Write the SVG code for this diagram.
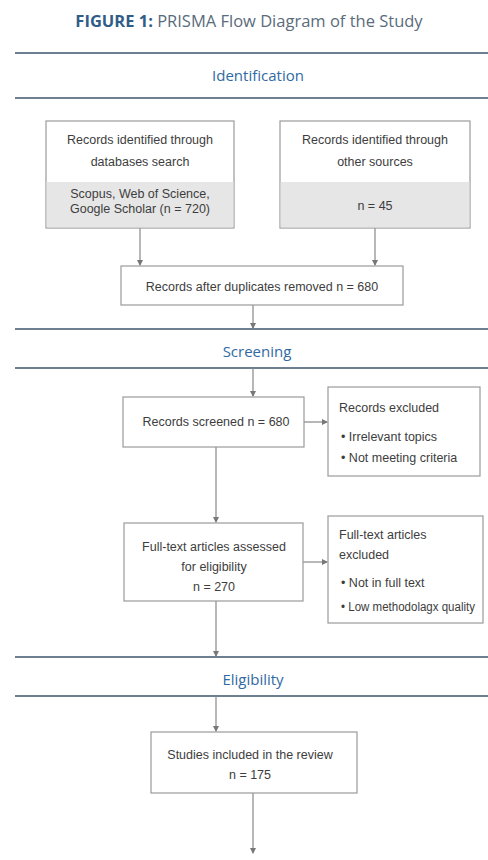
<svg xmlns="http://www.w3.org/2000/svg" width="488" height="860" viewBox="0 0 488 860">
<defs>
<marker id="ah" viewBox="0 0 6 6" refX="5" refY="3" markerWidth="5" markerHeight="5" orient="auto">
<path d="M0,0 L6,3 L0,6 z" fill="#777"/>
</marker>
<style>
.t{font-family:"Liberation Sans","Open Sans",sans-serif;font-size:12.5px;fill:#3d3d3d;}
.c{text-anchor:middle;}
.sec{font-family:"Open Sans","Liberation Sans",sans-serif;font-size:15px;fill:#2f6aa3;text-anchor:middle;}
.band{stroke:#6e7f92;stroke-width:2;}
.box{fill:#fff;stroke:#9a9a9a;stroke-width:1.2;}
.gray{fill:#e6e6e6;}
.con{stroke:#888;stroke-width:1.2;fill:none;marker-end:url(#ah);}
</style>
</defs>
<rect width="488" height="860" fill="#fff"/>
<text x="249" y="27" font-family="Open Sans,Liberation Sans,sans-serif" font-size="16.5" text-anchor="middle" fill="#5a6b7c"><tspan font-weight="bold" fill="#2f5d86">FIGURE 1:</tspan> PRISMA Flow Diagram of the Study</text>

<g id="sections">
<line class="band" x1="15" y1="53" x2="488" y2="53"/>
<text class="sec" x="258" y="81">Identification</text>
<line class="band" x1="15" y1="98" x2="488" y2="98"/>
<line class="band" x1="15" y1="329" x2="488" y2="329"/>
<text class="sec" x="257" y="357">Screening</text>
<line class="band" x1="15" y1="368" x2="488" y2="368"/>
<line class="band" x1="15" y1="657" x2="488" y2="657"/>
<text class="sec" x="253" y="685">Eligibility</text>
<line class="band" x1="15" y1="696" x2="488" y2="696"/>
</g>

<g id="connectors">
<line class="con" x1="140" y1="228" x2="140" y2="265"/>
<line class="con" x1="375" y1="228" x2="375" y2="265"/>
<line class="con" x1="253" y1="305" x2="253" y2="328"/>
<line class="con" x1="253" y1="368" x2="253" y2="396"/>
<line class="con" x1="304" y1="422" x2="327" y2="422"/>
<line class="con" x1="216" y1="447" x2="216" y2="522"/>
<line class="con" x1="303" y1="562" x2="327" y2="562"/>
<line class="con" x1="216" y1="601" x2="216" y2="656"/>
<line class="con" x1="216" y1="696" x2="216" y2="731"/>
<line class="con" x1="253" y1="793" x2="253" y2="853"/>
</g>

<g id="db">
<rect class="box" x="46" y="121" width="188" height="107"/>
<rect class="gray" x="46.6" y="182" width="186.8" height="45.4"/>
<text class="t c" x="140" y="144">Records identified through</text>
<text class="t c" x="140" y="166">databases search</text>
<text class="t c" x="140" y="198">Scopus, Web of Science,</text>
<text class="t c" x="140" y="213">Google Scholar (n = 720)</text>
</g>

<g id="other">
<rect class="box" x="280" y="121" width="190" height="107"/>
<rect class="gray" x="280.6" y="182" width="188.8" height="45.4"/>
<text class="t c" x="375" y="144">Records identified through</text>
<text class="t c" x="375" y="166">other sources</text>
<text class="t c" x="375" y="210">n = 45</text>
</g>

<g id="dedup">
<rect class="box" x="121" y="266" width="282" height="39"/>
<text class="t c" x="262" y="291">Records after duplicates removed n = 680</text>
</g>

<g id="screened">
<rect class="box" x="123" y="397" width="181" height="50"/>
<text class="t c" x="216" y="426">Records screened n = 680</text>
</g>

<g id="excluded">
<rect class="box" x="328" y="387" width="152" height="89"/>
<text class="t" x="339" y="412">Records excluded</text>
<text class="t" x="341" y="441">• Irrelevant topics</text>
<text class="t" x="341" y="462">• Not meeting criteria</text>
</g>

<g id="ftexcluded">
<rect class="box" x="328" y="516" width="155" height="107"/>
<text class="t" x="339" y="539">Full-text articles</text>
<text class="t" x="339" y="559">excluded</text>
<text class="t" x="341" y="587">• Not in full text</text>
<text class="t" x="341" y="611" textLength="134" lengthAdjust="spacingAndGlyphs">• Low methodolagx quality</text>
</g>

<g id="fulltext">
<rect class="box" x="124" y="523" width="179" height="78"/>
<text class="t c" x="214" y="551">Full-text articles assessed</text>
<text class="t c" x="214" y="571">for eligibility</text>
<text class="t c" x="214" y="591">n = 270</text>
</g>

<g id="included">
<rect class="box" x="151" y="732" width="206" height="61"/>
<text class="t c" x="250" y="759">Studies included in the review</text>
<text class="t c" x="250" y="779">n = 175</text>
</g>
</svg>
